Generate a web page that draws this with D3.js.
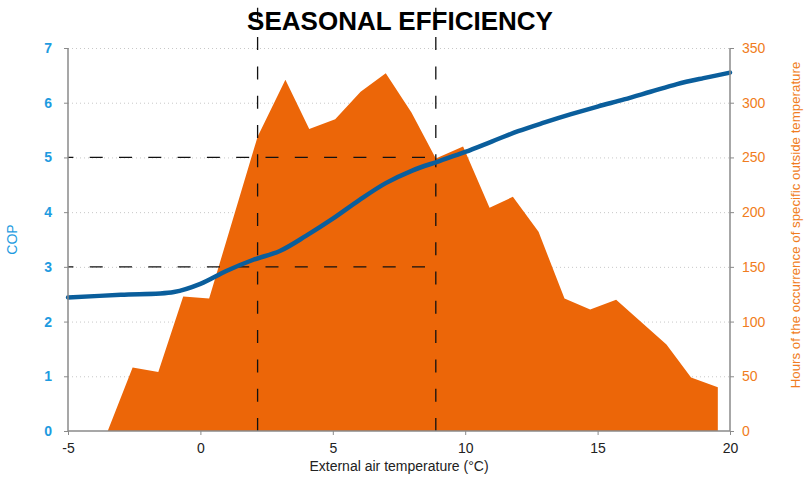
<!DOCTYPE html>
<html>
<head>
<meta charset="utf-8">
<script src="https://cdn.jsdelivr.net/npm/d3@7"></script>
<style>
  body { margin: 0; background: #fff; }
  svg { display: block; font-family: "Liberation Sans", Arial, sans-serif; }
</style>
</head>
<body>
<div id="chart"></div>
<script>
// hours of occurrence per outside temperature (area)
var hoursTemp = [-3.5, -2.56, -1.59, -0.65, 0.33, 2.16, 3.21, 4.11, 5.09, 6.05, 7.0, 7.97, 8.89, 9.92, 10.92, 11.8, 12.77, 13.75, 14.72, 15.7, 17.6, 18.53, 19.54, 19.54];
var hoursValue = [0, 58, 54, 123, 121, 269, 321, 276, 285, 310, 327, 291, 249, 260, 204, 214, 182, 121, 111, 120, 79, 49, 40, 0];

// COP curve
var copTemp = [-5, -3, -1, 0, 1, 2, 3, 4, 5, 6, 7, 8, 9, 10, 11, 12, 13, 14, 15, 16, 17, 18, 19, 20];
var copValue = [2.44, 2.49, 2.54, 2.69, 2.93, 3.13, 3.29, 3.57, 3.88, 4.22, 4.53, 4.76, 4.93, 5.10, 5.29, 5.48, 5.64, 5.79, 5.93, 6.06, 6.20, 6.34, 6.45, 6.55];

// reference markers
var markTemps = [2.16, 8.89];
var markCops = [3, 5];

var xTicks = [-5, 0, 5, 10, 15, 20];
var copTicks = [0, 1, 2, 3, 4, 5, 6, 7];
var hourTicks = [0, 50, 100, 150, 200, 250, 300, 350];

var width = 804, height = 479,
    margin = { top: 48, right: 74, bottom: 48, left: 68 };

var blue = "#1e9be0", orange = "#f07c20", fillOrange = "#ec6608", lineBlue = "#0a5e9c", axisGrey = "#8a8a8a";

var svg = d3.select("#chart").append("svg")
    .attr("width", width)
    .attr("height", height);

var x = d3.scaleLinear().domain([-5, 20]).range([margin.left, width - margin.right]);
var yCop = d3.scaleLinear().domain([0, 7]).range([height - margin.bottom, margin.top]);
var yHours = d3.scaleLinear().domain([0, 350]).range([height - margin.bottom, margin.top]);

// grid
svg.append("g")
    .selectAll("line")
    .data(copTicks.slice(1))
    .join("line")
    .attr("x1", x(-5)).attr("x2", x(20))
    .attr("y1", d => yCop(d) + 0.5).attr("y2", d => yCop(d) + 0.5)
    .attr("stroke", "#c8c8c8")
    .attr("stroke-width", 1)
    .attr("stroke-dasharray", "1,3");

// hours area
var hours = hoursTemp.map((t, i) => ({ t: t, v: hoursValue[i] }));
svg.append("path")
    .datum(hours)
    .attr("fill", fillOrange)
    .attr("d", d3.area().x(d => x(d.t)).y0(yHours(0)).y1(d => yHours(d.v)));

// dashed reference lines
var dash = svg.append("g")
    .attr("stroke", "#111")
    .attr("stroke-width", 1.3)
    .attr("fill", "none")
    .attr("stroke-dasharray", "13,16.3");

dash.selectAll(".h")
    .data(markCops)
    .join("line")
    .attr("class", "h")
    .attr("x1", x(-5)).attr("x2", x(markTemps[1]))
    .attr("y1", d => yCop(d)).attr("y2", d => yCop(d))
    .attr("stroke-dashoffset", 7.6);

dash.selectAll(".v")
    .data(markTemps)
    .join("line")
    .attr("class", "v")
    .attr("x1", d => x(d)).attr("x2", d => x(d))
    .attr("y1", yCop(0)).attr("y2", 0);

// COP line
var cop = copTemp.map((t, i) => ({ t: t, v: copValue[i] }));
svg.append("path")
    .datum(cop)
    .attr("fill", "none")
    .attr("stroke", lineBlue)
    .attr("stroke-width", 4.5)
    .attr("stroke-linecap", "round")
    .attr("d", d3.line().curve(d3.curveCatmullRom.alpha(0.5)).x(d => x(d.t)).y(d => yCop(d.v)));

// axes
var fmt = d => String(d);

var xAxis = svg.append("g")
    .attr("transform", `translate(0,${yCop(0)})`)
    .call(d3.axisBottom(x).tickValues(xTicks).tickSize(4).tickPadding(8).tickFormat(fmt));
xAxis.selectAll("text").attr("fill", "#222").style("font-size", "14px");

var leftAxis = svg.append("g")
    .attr("transform", `translate(${x(-5)},0)`)
    .call(d3.axisLeft(yCop).tickValues(copTicks).tickSize(4).tickPadding(12).tickFormat(fmt));
leftAxis.selectAll("text").attr("fill", blue).style("font-size", "14px").style("font-weight", "bold");

var rightAxis = svg.append("g")
    .attr("transform", `translate(${x(20)},0)`)
    .call(d3.axisRight(yHours).tickValues(hourTicks).tickSize(4).tickPadding(8).tickFormat(fmt));
rightAxis.selectAll("text").attr("fill", orange).style("font-size", "14px");

[xAxis, leftAxis, rightAxis].forEach(g => {
    g.select(".domain").attr("stroke", axisGrey).attr("stroke-width", 1.5);
    g.selectAll(".tick line").attr("stroke", axisGrey);
});
// keep domain ends square (no outer ticks)
xAxis.select(".domain").attr("d", `M${x(-5)},0H${x(20)}`);
leftAxis.select(".domain").attr("d", `M0,${yCop(0)}V${yCop(7)}`);
rightAxis.select(".domain").attr("d", `M0,${yCop(0)}V${yCop(7)}`);

// titles
svg.append("text")
    .attr("x", 400).attr("y", 30)
    .attr("text-anchor", "middle")
    .style("font-size", "26px")
    .style("font-weight", "bold")
    .attr("fill", "#000")
    .text("SEASONAL EFFICIENCY");

svg.append("text")
    .attr("x", (x(-5) + x(20)) / 2).attr("y", 471)
    .attr("text-anchor", "middle")
    .style("font-size", "14px")
    .attr("fill", "#222")
    .text("External air temperature (°C)");

svg.append("text")
    .attr("transform", `translate(17,${yCop(3.5)}) rotate(-90)`)
    .attr("text-anchor", "middle")
    .style("font-size", "14px")
    .attr("fill", blue)
    .text("COP");

svg.append("text")
    .attr("transform", `translate(800,225) rotate(-90)`)
    .attr("text-anchor", "middle")
    .style("font-size", "13.3px")
    .attr("fill", orange)
    .text("Hours of the occurrence of specific outside temperature");
</script>
</body>
</html>
